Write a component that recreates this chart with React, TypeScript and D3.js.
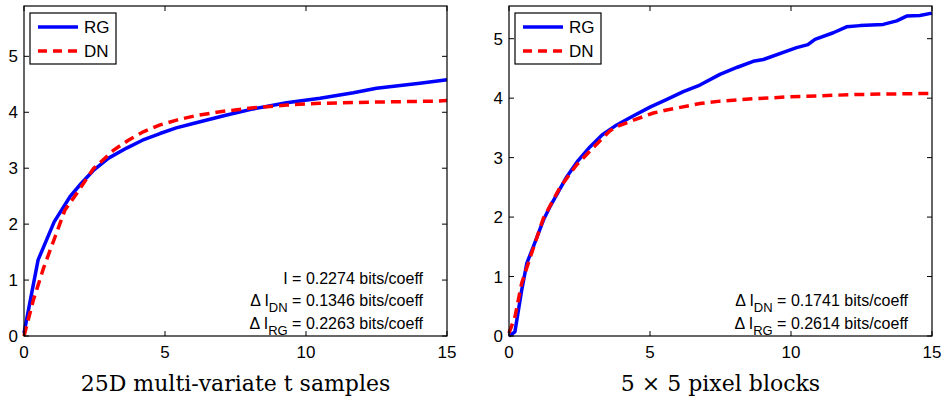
import React, { useEffect, useRef } from 'react';
import * as d3 from 'd3';

// x ticks shared by both panels
const xTicks = [0, 5, 10, 15];
const yTicks = [0, 1, 2, 3, 4, 5];

// left panel: 25D multi-variate t samples
const leftRGx = [0, 0.5, 1.07, 1.63, 2.05, 2.46, 3.0, 3.64, 4.2, 4.82, 5.4, 6.0, 7.19, 8.13, 9.31, 10.5, 11.68, 12.5, 14.04, 15];
const leftRGy = [0.05, 1.36, 2.04, 2.49, 2.74, 2.96, 3.18, 3.36, 3.5, 3.62, 3.72, 3.8, 3.95, 4.06, 4.17, 4.25, 4.35, 4.43, 4.52, 4.58];
const leftDNx = [0, 0.33, 0.69, 1.1, 1.45, 1.87, 2.46, 3.17, 3.7, 4.23, 4.8, 5.41, 6.1, 6.95, 8.13, 9.31, 10.5, 12.27, 14.6, 15];
const leftDNy = [0, 0.64, 1.21, 1.77, 2.25, 2.55, 2.99, 3.32, 3.5, 3.65, 3.77, 3.86, 3.94, 4.01, 4.08, 4.13, 4.16, 4.18, 4.2, 4.21];

// right panel: 5 x 5 pixel blocks
const rightRGx = [0, 0.21, 0.45, 0.63, 0.86, 1.22, 1.45, 2.05, 2.45, 2.87, 3.3, 3.82, 4.4, 5.0, 5.6, 6.18, 6.77, 7.48, 8.1, 8.66, 9.02, 9.85, 10.2, 10.6, 10.85, 11.5, 11.97, 12.45, 13.27, 13.75, 14.1, 14.57, 15];
const rightRGy = [0, 0.07, 0.77, 1.22, 1.5, 1.95, 2.17, 2.68, 2.95, 3.18, 3.38, 3.55, 3.7, 3.85, 3.98, 4.11, 4.22, 4.4, 4.52, 4.62, 4.65, 4.79, 4.85, 4.9, 4.99, 5.1, 5.2, 5.22, 5.24, 5.3, 5.38, 5.39, 5.43];
const rightDNx = [0, 0.21, 0.45, 0.8, 1.22, 1.81, 2.4, 2.99, 3.58, 3.82, 4.41, 5.12, 5.59, 6.77, 7.48, 8.66, 9.85, 11.03, 12.2, 13.4, 15];
const rightDNy = [0.05, 0.32, 0.89, 1.39, 1.98, 2.5, 2.88, 3.17, 3.45, 3.52, 3.63, 3.75, 3.8, 3.91, 3.95, 3.99, 4.02, 4.04, 4.06, 4.07, 4.08];

const legendNames = ['RG', 'DN'];

const panels = [
  {
    left: 24, right: 447, yMax: 5.9,
    rg: leftRGx.map((x, i) => [x, leftRGy[i]]),
    dn: leftDNx.map((x, i) => [x, leftDNy[i]]),
    notes: [
      { pre: 'I', sub: '', post: ' = 0.2274 bits/coeff' },
      { pre: '\u0394 I', sub: 'DN', post: ' = 0.1346 bits/coeff' },
      { pre: '\u0394 I', sub: 'RG', post: ' = 0.2263 bits/coeff' },
    ],
    title: '25D multi-variate t samples',
  },
  {
    left: 509, right: 932, yMax: 5.55,
    rg: rightRGx.map((x, i) => [x, rightRGy[i]]),
    dn: rightDNx.map((x, i) => [x, rightDNy[i]]),
    notes: [
      { pre: '\u0394 I', sub: 'DN', post: ' = 0.1741 bits/coeff' },
      { pre: '\u0394 I', sub: 'RG', post: ' = 0.2614 bits/coeff' },
    ],
    title: '5 \u00d7 5 pixel blocks',
  },
];

const App = () => {
  const svgRef = useRef<SVGSVGElement>(null);

  useEffect(() => {
    const svg = d3.select(svgRef.current);
    svg.selectAll('*').remove();

    const top = 6;
    const bottom = 336;
    const sans = "'Liberation Sans', Arial, sans-serif";

    panels.forEach(p => {
      const x = d3.scaleLinear().domain([0, 15]).range([p.left, p.right]);
      const y = d3.scaleLinear().domain([0, p.yMax]).range([bottom, top]);
      const g = svg.append('g');

      // straight segments, like the original plot
      const line = d3.line<number[]>()
        .x(d => x(d[0]))
        .y(d => y(d[1]));

      // curves
      g.append('path')
        .attr('d', line(p.rg))
        .attr('fill', 'none')
        .attr('stroke', '#0000ff')
        .attr('stroke-width', 3.5)
        .attr('stroke-linejoin', 'round');

      g.append('path')
        .attr('d', line(p.dn))
        .attr('fill', 'none')
        .attr('stroke', '#ff0000')
        .attr('stroke-width', 3.5)
        .attr('stroke-dasharray', '10,6');

      // box
      g.append('rect')
        .attr('x', p.left)
        .attr('y', top)
        .attr('width', p.right - p.left)
        .attr('height', bottom - top)
        .attr('fill', 'none')
        .attr('stroke', '#000')
        .attr('stroke-width', 1.2);

      // inward ticks on all four sides
      const tl = 5;
      xTicks.forEach(t => {
        g.append('line').attr('x1', x(t)).attr('x2', x(t)).attr('y1', bottom).attr('y2', bottom - tl).attr('stroke', '#000');
        g.append('line').attr('x1', x(t)).attr('x2', x(t)).attr('y1', top).attr('y2', top + tl).attr('stroke', '#000');
        g.append('text')
          .attr('x', x(t))
          .attr('y', bottom + 22)
          .attr('text-anchor', 'middle')
          .style('font-family', sans)
          .style('font-size', '17px')
          .text(t);
      });
      yTicks.forEach(t => {
        g.append('line').attr('x1', p.left).attr('x2', p.left + tl).attr('y1', y(t)).attr('y2', y(t)).attr('stroke', '#000');
        g.append('line').attr('x1', p.right).attr('x2', p.right - tl).attr('y1', y(t)).attr('y2', y(t)).attr('stroke', '#000');
        g.append('text')
          .attr('x', p.left - 6)
          .attr('y', y(t))
          .attr('dy', '0.36em')
          .attr('text-anchor', 'end')
          .style('font-family', sans)
          .style('font-size', '17px')
          .text(t);
      });

      // legend
      const lg = g.append('g').attr('transform', `translate(${p.left + 6},13)`);
      lg.append('rect')
        .attr('width', 86).attr('height', 51)
        .attr('fill', '#fff').attr('stroke', '#000').attr('stroke-width', 1.2);
      legendNames.forEach((name, i) => {
        const ly = 14 + i * 24;
        lg.append('line')
          .attr('x1', 8).attr('x2', 48).attr('y1', ly).attr('y2', ly)
          .attr('stroke', i === 0 ? '#0000ff' : '#ff0000')
          .attr('stroke-width', 3.5)
          .attr('stroke-dasharray', i === 0 ? null : '9,6');
        lg.append('text')
          .attr('x', 54).attr('y', ly).attr('dy', '0.36em')
          .style('font-family', sans)
          .style('font-size', '17px')
          .text(name);
      });

      // annotations, right aligned
      const n = p.notes.length;
      p.notes.forEach((note, i) => {
        const ty = 323 - (n - 1 - i) * 22.5;
        const t = g.append('text')
          .attr('x', p.right - 24)
          .attr('y', ty)
          .attr('dy', '0.36em')
          .attr('text-anchor', 'end')
          .style('font-family', sans)
          .style('font-size', '16px');
        t.append('tspan').text(note.pre);
        if (note.sub) {
          t.append('tspan').attr('dy', 6).style('font-size', '13px').text(note.sub);
          t.append('tspan').attr('dy', -6).text(note.post);
        } else {
          t.append('tspan').text(note.post);
        }
      });

      // panel title
      g.append('text')
        .attr('x', (p.left + p.right) / 2)
        .attr('y', 391)
        .attr('text-anchor', 'middle')
        .style('font-family', "'DejaVu Serif', serif")
        .style('font-size', '22px')
        .text(p.title);
    });
  }, []);

  return (
    <svg
      ref={svgRef}
      width={945}
      height={400}
      style={{ position: 'absolute', left: 0, top: 0, background: '#fff' }}
    />
  );
};

export default App;
